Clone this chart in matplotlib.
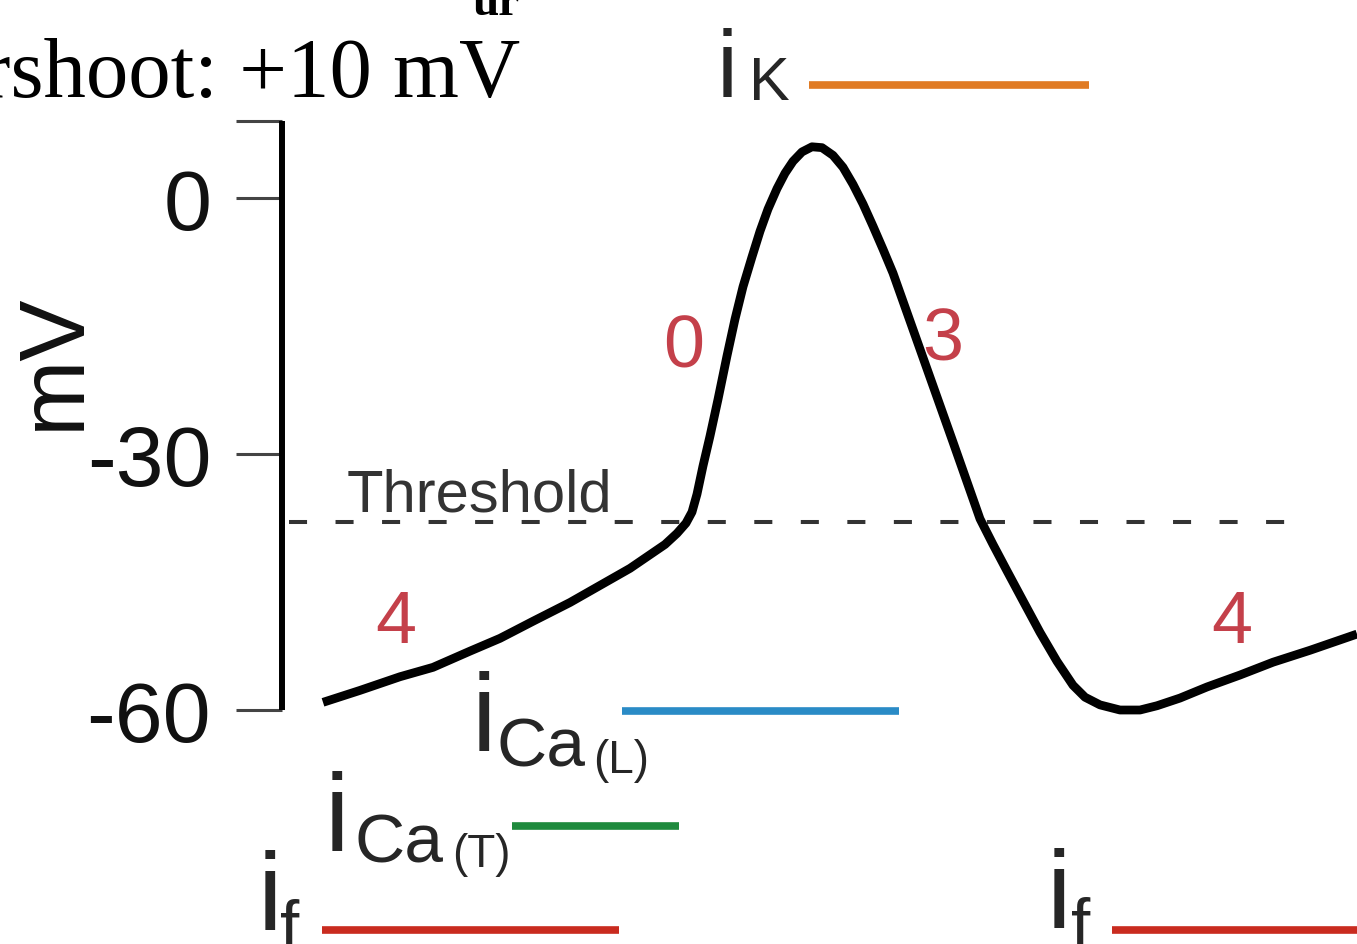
import matplotlib
matplotlib.use("Agg")
import matplotlib.pyplot as plt

plt.rcParams["lines.scale_dashes"] = False

# Pacemaker (SA node) membrane potential over one cycle
time_ms = [12.3, 23.4, 35.4, 45.3, 56.4, 65.4, 75.3, 86.4, 95.4, 104.4,
           110.4, 114.9, 118.5, 121.2, 123.0, 124.5, 126.3, 128.4, 130.8,
           133.5, 135.9, 138.3, 141.0, 143.4, 145.8, 148.5, 150.9, 153.3,
           156.0, 159.0, 162.0, 165.3, 168.3, 171.3, 174.3, 177.3, 180.3,
           183.3, 189.3, 195.3, 201.3, 209.4, 213.3, 217.5, 222.3, 227.4,
           232.5, 237.3, 240.9, 245.4, 251.4, 257.4, 262.5, 269.4, 277.5,
           287.4, 297.3, 308.4, 322.5]
vm_mv = [-59.1, -57.7, -56.1, -55.0, -53.1, -51.6, -49.6, -47.4, -45.4, -43.4,
         -41.8, -40.6, -39.3, -38.1, -36.8, -34.7, -31.4, -27.9, -23.6,
         -18.5, -14.2, -10.4, -6.9, -3.9, -1.3, 1.1, 2.9, 4.3,
         5.4, 6.0, 5.9, 5.0, 3.6, 1.6, -0.7, -3.3, -6.0,
         -8.8, -15.4, -22.0, -28.6, -37.6, -40.6, -43.7, -47.2, -50.9,
         -54.3, -57.1, -58.5, -59.4, -60.0, -60.0, -59.5, -58.6, -57.3,
         -55.9, -54.4, -53.0, -51.1]

threshold_mv = -38
threshold_span_ms = (2, 309)

# Time windows (ms) during which each current is active
ik_window = (158, 242)
ica_l_window = (102, 185)
ica_t_window = (69, 119)
if_windows = [(12, 101), (249, 330)]

# Phase numbers along the trace
phase_labels = ["4", "0", "3", "4"]

ytick_values = [9, 0, -30, -60]
ytick_labels = ["", "0", "-30", "-60"]

SANS = "Liberation Sans"
SERIF = "Liberation Serif"
PHASE_RED = "#c4404a"
TEXT_DARK = "#262626"

fig = plt.figure(figsize=(13.57, 9.45), dpi=100)
ax = fig.add_axes([0, 0, 1, 1])
ax.set_xlim(-84.6, 322.5)
ax.set_ylim(-87.42, 23.32)

# Membrane potential trace
ax.plot(time_ms, vm_mv, color="black", lw=6.3, solid_capstyle="butt",
        solid_joinstyle="round", zorder=3)

# Threshold
ax.plot(threshold_span_ms, [threshold_mv, threshold_mv], color="#333333",
        lw=2.9, dashes=(13, 20.5), zorder=2)
ax.text(19.5, -36.6, "Threshold", fontsize=43, family=SANS, color="#333333",
        ha="left", va="baseline")

# Current bars
bar_rows = [
    (ik_window, 13.2, "#e07b24"),
    (ica_l_window, -60.1, "#2a8bc6"),
    (ica_t_window, -73.6, "#1f8a3d"),
    (if_windows[0], -85.8, "#c92b1f"),
    (if_windows[1], -85.8, "#c92b1f"),
]
for (t0, t1), row_y, col in bar_rows:
    ax.plot([t0, t1], [row_y, row_y], color=col, lw=5.5,
            solid_capstyle="butt", zorder=2)

# Current labels: main letter plus subscript
def current_label(x_i, base_i, x_sub, base_sub, sub, i_size=80, sub_size=50,
                  x_par=None, base_par=None, par=None):
    ax.text(x_i, base_i, "i", fontsize=i_size, family=SANS, color=TEXT_DARK,
            ha="left", va="baseline")
    ax.text(x_sub, base_sub, sub, fontsize=sub_size, family=SANS,
            color=TEXT_DARK, ha="left", va="baseline")
    if par is not None:
        ax.text(x_par, base_par, par, fontsize=33, family=SANS,
                color=TEXT_DARK, ha="left", va="baseline")

current_label(130.5, 11.9, 140.0, 11.6, "K", i_size=68, sub_size=44)
current_label(57.0, -64.8, 64.5, -66.5, "Ca", x_par=93.3, base_par=-67.3,
              par="(L)")
current_label(12.8, -76.5, 21.9, -77.7, "Ca", x_par=51.0, base_par=-78.3,
              par="(T)")
current_label(-7.4, -85.8, -0.6, -87.9, "f")
current_label(229.3, -85.6, 236.8, -87.7, "f")

# Phase numbers
phase_pos = [(34.2, -52.0), (120.6, -19.7), (198.3, -18.9), (285.0, -52.0)]
for lab, (px, py) in zip(phase_labels, phase_pos):
    ax.text(px, py, lab, fontsize=53, family=SANS, color=PHASE_RED,
            ha="center", va="baseline")

# Voltage axis
for side in ("top", "right", "bottom"):
    ax.spines[side].set_visible(False)
ax.spines["left"].set_position(("data", 0))
ax.spines["left"].set_bounds(-60, 9)
ax.spines["left"].set_linewidth(4.3)
ax.spines["left"].set_capstyle("butt")
ax.set_xticks([])
ax.set_yticks(ytick_values)
ax.set_yticklabels(ytick_labels, fontsize=62, family=SANS, color="#111111")
ax.tick_params(axis="y", direction="out", length=33, width=2.2,
               color="#444444", pad=18)
ax.text(-68.1, -19.0, "mV", rotation=90, fontsize=66, family=SANS,
        color="#111111", ha="center", va="center")

# Overshoot note
ax.text(71.4, 11.95, "Overshoot: +10 mV", fontsize=61, family=SERIF,
        color="black", ha="right", va="baseline")
ax.text(71.4, 21.6, "ur", fontsize=34, family=SERIF, weight="bold",
        color="black", ha="right", va="baseline")

fig.savefig("out.png", dpi=100, facecolor="white")
